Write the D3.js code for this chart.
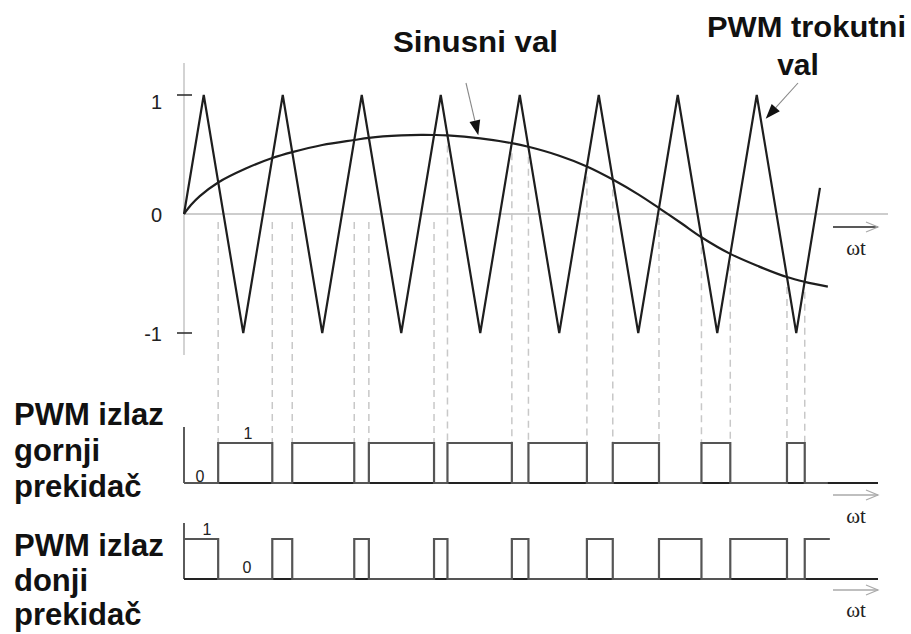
<!DOCTYPE html>
<html><head><meta charset="utf-8">
<script src="https://cdn.jsdelivr.net/npm/d3@7"></script>
<style>html,body{margin:0;padding:0;background:#fff;}svg{display:block;}</style>
</head><body>
<svg id="chart" width="911" height="634"></svg>
<script>
// ---- data ----
// triangle carrier: vertices (t in quarter-periods, value)
const triT = [0,1,3,5,7,9,11,13,15,17,19,21,23,25,27,29,31,32.2];
const triV = [0,1,-1,1,-1,1,-1,1,-1,1,-1,1,-1,1,-1,1,-1,0.22];
// modulating "sine" wave samples
const sinT = [0,0.35,0.8,1.73,3.1,4.47,5.48,7.0,8.62,9.36,11.0,12.0,12.66,13.34,15.0,16.6,17.44,19.0,20.4,21.71,23.0,24.05,25.2,26.2,27.66,29.1,30.53,31.43,32.6];
const sinV = [0,0.075,0.15,0.265,0.38,0.47,0.52,0.58,0.622,0.64,0.66,0.665,0.664,0.66,0.635,0.595,0.565,0.49,0.40,0.29,0.165,0.05,-0.08,-0.195,-0.335,-0.44,-0.53,-0.57,-0.61];
// switching instants (crossings of the two waves)
const crossT = [1.73,4.47,5.48,8.62,9.36,12.66,13.34,16.6,17.44,20.4,21.71,24.05,26.2,27.66,30.53,31.43];
const upperStart = 0, lowerStart = 1;
const upperEndT = 32.6, lowerEndT = 32.7;
const yTicks = [1, 0, -1];
const yTickLabels = ["1", "0", "-1"];
const titleSine = "Sinusni val";
const titleTri = ["PWM trokutni", "val"];
const upperLabel = ["PWM izlaz", "gornji", "prekidač"];
const lowerLabel = ["PWM izlaz", "donji", "prekidač"];
const axisName = "ωt";

// ---- scales ----
const svg = d3.select("#chart");
svg.append("rect").attr("width",911).attr("height",634).attr("fill","#fff");
const x = d3.scaleLinear().domain([0,32]).range([184,816]);
const y = d3.scaleLinear().domain([-1,1]).range([333,95]);
const yU = d3.scaleLinear().domain([0,1]).range([483,443]);
const yL = d3.scaleLinear().domain([0,1]).range([579,539]);
const sans = "'Liberation Sans', Arial, Helvetica, sans-serif";
const serif = "'Liberation Serif', 'DejaVu Serif', 'Times New Roman', serif";

// ---- top chart axes ----
svg.append("line").attr("x1",x(0)).attr("x2",x(0)).attr("y1",63).attr("y2",355)
  .attr("stroke","#c4c4c4").attr("stroke-width",1.5);
svg.append("line").attr("x1",x(0)).attr("x2",888).attr("y1",y(0)).attr("y2",y(0))
  .attr("stroke","#bdbdbd").attr("stroke-width",1.5);
yTicks.forEach((v,i)=>{
  if (v !== 0) svg.append("line").attr("x1",x(0)-7).attr("x2",x(0)+8).attr("y1",y(v)).attr("y2",y(v))
    .attr("stroke","#333").attr("stroke-width",1.6);
  svg.append("text").attr("x",162).attr("y",y(v)+ (v===1?7:1)).attr("dy","0.35em")
    .attr("text-anchor","end").attr("font-family",sans).attr("font-size",20).attr("fill","#222")
    .text(yTickLabels[i]);
});

// dashed projection lines
const sineAt = d3.scaleLinear().domain(sinT).range(sinV);
crossT.forEach(t=>{
  const yc = y(sineAt(t));
  const y0 = t < 13 ? y(0)+8 : yc+10;
  svg.append("line").attr("x1",x(t)).attr("x2",x(t)).attr("y1",y0).attr("y2",445)
    .attr("stroke","#c8c8c8").attr("stroke-width",1.5).attr("stroke-dasharray","7,5");
});

// triangle carrier
const tri = triT.map((t,i)=>[t,triV[i]]);
svg.append("path").datum(tri)
  .attr("d", d3.line().x(d=>x(d[0])).y(d=>y(d[1])))
  .attr("fill","none").attr("stroke","#1e1e1e").attr("stroke-width",2.2).attr("stroke-linejoin","miter");
// sine wave
const sin = sinT.map((t,i)=>[t,sinV[i]]);
svg.append("path").datum(sin)
  .attr("d", d3.line().x(d=>x(d[0])).y(d=>y(d[1])).curve(d3.curveCatmullRom.alpha(0.5)))
  .attr("fill","none").attr("stroke","#1e1e1e").attr("stroke-width",2.2);

// ωt arrow helper
function omegaArrow(yA, yText, shaftColor){
  svg.append("line").attr("x1",833).attr("x2",878).attr("y1",yA).attr("y2",yA)
    .attr("stroke",shaftColor).attr("stroke-width",1.5);
  svg.append("path").attr("d",`M866,${yA-5} L878,${yA} L866,${yA+5}`)
    .attr("fill","none").attr("stroke","#aaa").attr("stroke-width",1.2);
  svg.append("text").attr("x",856).attr("y",yText).attr("text-anchor","middle")
    .attr("font-family",serif).attr("font-size",21).attr("fill","#222").text(axisName);
}
omegaArrow(227, 255, "#222");

// annotations
svg.append("text").attr("x",393).attr("y",52).attr("font-family",sans).attr("font-weight","bold")
  .attr("font-size",30).attr("textLength",165).attr("lengthAdjust","spacingAndGlyphs").attr("fill","#111").text(titleSine);
svg.append("text").attr("x",707).attr("y",37).attr("font-family",sans).attr("font-weight","bold")
  .attr("font-size",30).attr("textLength",199).attr("lengthAdjust","spacingAndGlyphs").attr("fill","#111").text(titleTri[0]);
svg.append("text").attr("x",798).attr("y",75).attr("text-anchor","middle").attr("font-family",sans).attr("font-weight","bold")
  .attr("font-size",30).attr("fill","#111").text(titleTri[1]);

function pointer(x1,y1,tx,ty){
  const dx=tx-x1, dy=ty-y1, L=Math.hypot(dx,dy), ux=dx/L, uy=dy/L;
  const hl=15, hw=5.5;
  const bx=tx-ux*hl, by=ty-uy*hl;
  svg.append("line").attr("x1",x1).attr("y1",y1).attr("x2",bx).attr("y2",by)
    .attr("stroke","#888").attr("stroke-width",1.1);
  svg.append("path").attr("d",`M${tx},${ty} L${bx-uy*hw},${by+ux*hw} L${bx+uy*hw},${by-ux*hw} Z`)
    .attr("fill","#111");
}
pointer(466, 83, x(14.9), y(sineAt(14.9))-3);
pointer(798, 83, x(29.2)+5, y(0.8));

// ---- pulse trains ----
function pulses(start, endT){
  const pts=[[0,start]]; let s=start;
  crossT.forEach(t=>{ s=1-s; pts.push([t,s]); });
  pts.push([endT,s]);
  return pts;
}
function pulsePanel(yS, start, endT, label1, label0){
  svg.append("line").attr("x1",x(0)).attr("x2",x(0)).attr("y1",yS(1)-16).attr("y2",yS(0))
    .attr("stroke","#333").attr("stroke-width",1.6);
  svg.append("line").attr("x1",x(0)).attr("x2",878).attr("y1",yS(0)).attr("y2",yS(0))
    .attr("stroke","#222").attr("stroke-width",2);
  svg.append("path").datum(pulses(start,endT))
    .attr("d", d3.line().x(d=>x(d[0])).y(d=>yS(d[1])).curve(d3.curveStepAfter))
    .attr("fill","none").attr("stroke","#555").attr("stroke-width",2.2);
  svg.append("text").attr("x",label1[0]).attr("y",label1[1]).attr("text-anchor","middle")
    .attr("font-family",sans).attr("font-size",16).attr("fill","#222").text("1");
  svg.append("text").attr("x",label0[0]).attr("y",label0[1]).attr("text-anchor","middle")
    .attr("font-family",sans).attr("font-size",16).attr("fill","#222").text("0");
}
pulsePanel(yU, upperStart, upperEndT, [248,439], [200,482]);
pulsePanel(yL, lowerStart, lowerEndT, [207,535], [247,573]);
omegaArrow(495, 523, "#aaa");
omegaArrow(590, 617, "#aaa");

// left labels
function leftLabel(lines, y0, step){
  lines.forEach((s,i)=>{
    svg.append("text").attr("x",14).attr("y",y0+i*step).attr("font-family",sans).attr("font-weight","bold")
      .attr("font-size",31).attr("fill","#111").text(s);
  });
}
leftLabel(upperLabel, 425, 36);
leftLabel(lowerLabel, 556, 34.5);
</script>
</body></html>
